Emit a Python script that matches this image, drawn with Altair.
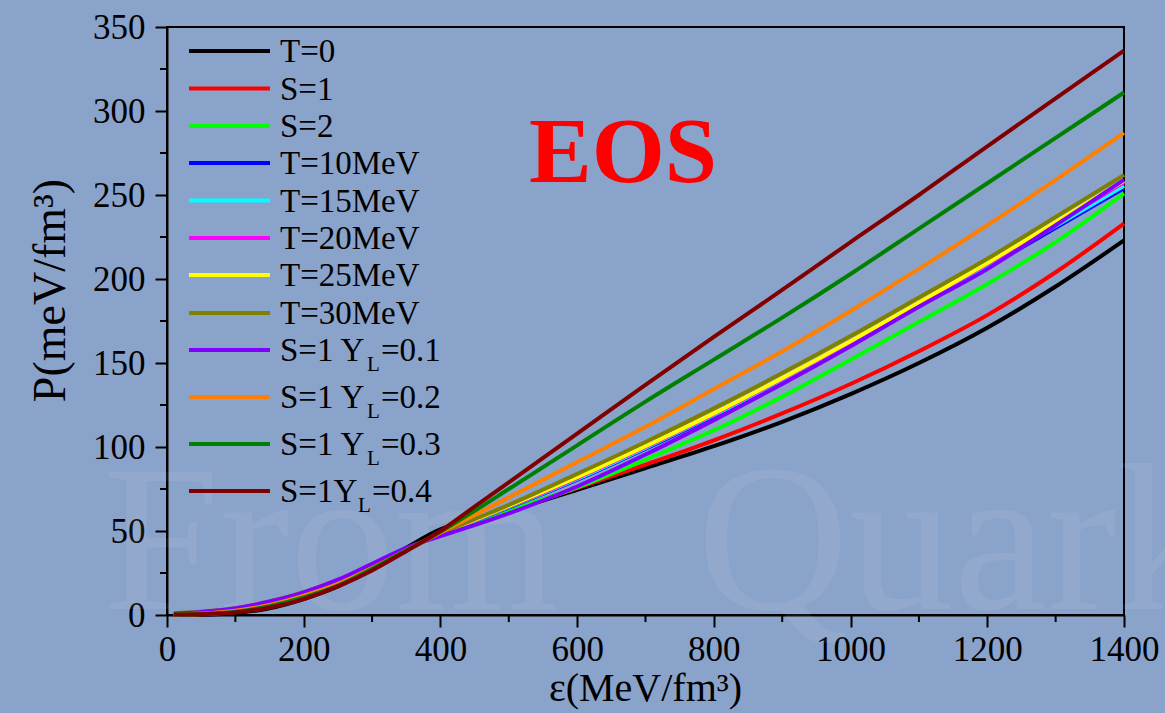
import altair as alt
import pandas as pd

# ---------------- data ----------------
eps = [10, 50, 100, 150, 200, 250, 300, 350, 400, 450, 500, 600, 700, 800, 900, 1000, 1100, 1200, 1300, 1400]

p_T0 = [0.0, 0.2, 1.2, 4.0, 9.5, 17.0, 27.5, 40.0, 51.0, 56.5, 62.0, 74.5, 87.5, 100.5, 115.0, 131.5, 150.0, 171.0, 195.5, 223.0]
p_S1 = [0.1, 0.4, 1.8, 4.8, 10.3, 17.5, 27.5, 38.5, 48.5, 55.0, 61.8, 75.5, 89.5, 104.0, 120.0, 137.5, 157.0, 178.5, 204.0, 233.0]
p_S2 = [0.2, 0.6, 2.1, 5.2, 10.8, 18.0, 27.8, 38.3, 48.3, 55.0, 62.0, 76.0, 92.5, 110.0, 130.0, 152.0, 174.5, 197.0, 222.0, 251.0]
p_T10 = [0.3, 0.8, 2.4, 5.6, 11.2, 18.4, 28.0, 38.5, 48.5, 56.0, 64.0, 80.5, 99.0, 118.5, 139.5, 161.5, 184.0, 207.0, 230.5, 254.0]
p_T15 = [0.5, 1.1, 2.8, 6.2, 11.8, 19.0, 28.3, 38.6, 48.5, 56.2, 64.3, 81.0, 99.5, 119.0, 140.0, 162.0, 184.5, 208.0, 231.5, 255.5]
p_T20 = [0.7, 1.4, 3.2, 6.8, 12.4, 19.5, 28.6, 38.7, 48.5, 56.4, 64.6, 81.5, 100.0, 119.5, 140.5, 162.5, 185.5, 209.0, 233.0, 257.5]
p_T25 = [0.9, 1.7, 3.6, 7.4, 13.0, 20.0, 28.9, 38.8, 48.5, 56.6, 64.9, 82.0, 100.5, 120.0, 141.0, 163.0, 186.0, 209.5, 234.0, 258.5]
p_T30 = [1.1, 2.0, 4.0, 8.0, 13.6, 20.6, 29.2, 39.0, 48.5, 57.0, 65.5, 84.0, 103.0, 123.0, 144.0, 166.0, 189.0, 212.0, 237.0, 262.0]
p_YL1 = [0.8, 1.8, 4.0, 8.0, 13.5, 21.0, 30.5, 40.0, 47.0, 53.5, 60.5, 76.5, 95.5, 116.0, 137.5, 160.0, 183.5, 206.0, 232.0, 259.0]
p_YL2 = [0.5, 0.9, 2.5, 6.0, 11.5, 18.5, 28.0, 38.5, 49.0, 59.5, 70.0, 91.0, 112.0, 134.5, 157.0, 181.0, 206.0, 232.0, 259.0, 287.0]
p_YL3 = [0.4, 0.7, 2.0, 5.3, 10.5, 17.5, 27.5, 38.5, 49.5, 62.0, 75.0, 101.0, 127.0, 152.0, 177.0, 203.0, 230.0, 257.0, 284.0, 311.0]
p_YL4 = [0.3, 0.5, 1.5, 4.5, 9.5, 17.0, 26.5, 38.0, 50.0, 64.5, 79.0, 108.0, 137.0, 165.5, 193.5, 222.0, 250.0, 279.0, 307.5, 336.0]

series_names = ["T=0", "S=1", "S=2", "T=10MeV", "T=15MeV", "T=20MeV", "T=25MeV", "T=30MeV",
                "S=1 YL=0.1", "S=1 YL=0.2", "S=1 YL=0.3", "S=1YL=0.4"]
series_values = [p_T0, p_S1, p_S2, p_T10, p_T15, p_T20, p_T25, p_T30, p_YL1, p_YL2, p_YL3, p_YL4]
series_colors = ["#000000", "#ff0000", "#00ff00", "#0000ff", "#00ffff", "#ff00ff", "#ffff00", "#808000",
                 "#8000ff", "#ff8000", "#008000", "#800000"]

legend_main = ["T=0", "S=1", "S=2", "T=10MeV", "T=15MeV", "T=20MeV", "T=25MeV", "T=30MeV",
               "S=1 Y", "S=1 Y", "S=1 Y", "S=1Y"]
legend_sub = ["", "", "", "", "", "", "", "", "L", "L", "L", "L"]
legend_tail = ["", "", "", "", "", "", "", "", "=0.1", "=0.2", "=0.3", "=0.4"]

x_ticks = [0, 200, 400, 600, 800, 1000, 1200, 1400]
x_minor = [100, 300, 500, 700, 900, 1100, 1300]
y_ticks = [0, 50, 100, 150, 200, 250, 300, 350]
y_minor = [25, 75, 125, 175, 225, 275, 325]

# ---------------- layout / style ----------------
W, H = 957, 588
LEFT, TOP = 167, 27
FONT = "Liberation Serif"
BG = "#8aa3ca"

rows = []
for name, vals in zip(series_names, series_values):
    for e, p in zip(eps, vals):
        rows.append({"series": name, "eps": e, "P": p})
df = pd.DataFrame(rows)

xs = alt.Scale(domain=[0, 1400], nice=False, zero=False)
ys = alt.Scale(domain=[0, 350], nice=False, zero=False)

x_axis = alt.Axis(values=x_ticks, format="d", title="ε(MeV/fm³)", titleFontSize=40,
                  titleX=478, titleY=73, titleAlign="center", titleBaseline="middle",
                  labelPadding=5, labelFlush=False, labelOverlap=False)
y_axis = alt.Axis(values=y_ticks, format="d", title="P(meV/fm³)", titleFontSize=46,
                  titleX=-117, titleY=263, titleAngle=-90, titleAlign="center",
                  titleBaseline="middle", labelPadding=10, labelOverlap=False)

one = pd.DataFrame({"k": [0]})
layers = []

# watermark
layers.append(alt.Chart(one).mark_text(text="From", font=FONT, fontSize=210, align="left",
                                       baseline="alphabetic", color="white", opacity=0.07)
              .encode(x=alt.value(-64), y=alt.value(582)))
layers.append(alt.Chart(one).mark_text(text="Quarks", font=FONT, fontSize=210, align="left",
                                       baseline="alphabetic", color="white", opacity=0.07)
              .encode(x=alt.value(530), y=alt.value(582)))

# curves
for name, col in zip(series_names, series_colors):
    layers.append(
        alt.Chart(df).transform_filter(alt.datum.series == name)
        .mark_line(color=col, strokeWidth=4, interpolate="monotone")
        .encode(x=alt.X("eps:Q", scale=xs, axis=x_axis),
                y=alt.Y("P:Q", scale=ys, axis=y_axis))
    )

# minor ticks (same fields and axes as the curves so the axes merge)
layers.append(alt.Chart(pd.DataFrame({"P": y_minor})).mark_rule(color="black", strokeWidth=2)
              .encode(y=alt.Y("P:Q", scale=ys, axis=y_axis), x=alt.value(-7), x2=alt.value(0)))
layers.append(alt.Chart(pd.DataFrame({"eps": x_minor})).mark_rule(color="black", strokeWidth=2)
              .encode(x=alt.X("eps:Q", scale=xs, axis=x_axis), y=alt.value(H), y2=alt.value(H + 7)))

# legend
row_px = [51, 88.5, 126, 163, 200.5, 238, 275, 313, 350, 397, 444, 491]
for i, col in enumerate(series_colors):
    yy = row_px[i] - TOP
    layers.append(alt.Chart(one).mark_rule(color=col, strokeWidth=4)
                  .encode(x=alt.value(189 - LEFT), x2=alt.value(270 - LEFT), y=alt.value(yy)))
    layers.append(alt.Chart(one).mark_text(text=legend_main[i], font=FONT, fontSize=33, align="left",
                                           baseline="alphabetic", color="black")
                  .encode(x=alt.value(280 - LEFT), y=alt.value(yy + 11)))
    if legend_sub[i]:
        sx = 367 if legend_main[i] == "S=1 Y" else 358
        layers.append(alt.Chart(one).mark_text(text=legend_sub[i], font=FONT, fontSize=21, align="left",
                                               baseline="alphabetic", color="black")
                      .encode(x=alt.value(sx - LEFT), y=alt.value(yy + 21)))
        layers.append(alt.Chart(one).mark_text(text=legend_tail[i], font=FONT, fontSize=33, align="left",
                                               baseline="alphabetic", color="black")
                      .encode(x=alt.value(sx + 14 - LEFT), y=alt.value(yy + 11)))

# EOS label
layers.append(alt.Chart(one).mark_text(text="EOS", font=FONT, fontSize=94, fontWeight="bold",
                                       align="center", baseline="alphabetic", color="#ff0000")
              .encode(x=alt.value(623 - LEFT), y=alt.value(182 - TOP)))

chart = (
    alt.layer(*layers)
    .properties(width=W, height=H,
                padding={"left": LEFT, "top": TOP, "right": 1165 - LEFT - W, "bottom": 713 - TOP - H},
                autosize=alt.AutoSizeParams(type="none"),
                background=BG)
    .configure_view(stroke="black", strokeWidth=2)
    .configure_axis(labelFont=FONT, labelFontSize=35, labelColor="black",
                    titleFont=FONT, titleFontWeight="normal", titleColor="black",
                    domainColor="black", domainWidth=2, tickColor="black", tickWidth=2,
                    tickSize=12, grid=False)
)

chart.save("out.html", embed_options={"renderer": "svg", "actions": False})
